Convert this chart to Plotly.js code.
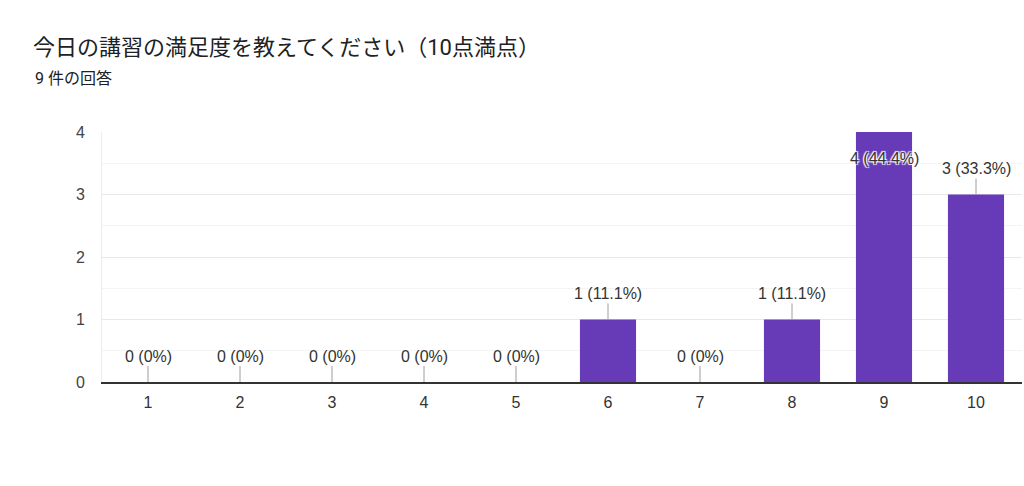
<!DOCTYPE html>
<html>
<head>
<meta charset="utf-8">
<script src="https://cdn.plot.ly/plotly-3.0.1.min.js"></script>
<style>
  html, body { margin: 0; padding: 0; background: #fff; }
  #fig { width: 1024px; height: 486px; }
</style>
</head>
<body>
<div id="fig"></div>
<script>
// 回答データ
var scores = ['1', '2', '3', '4', '5', '6', '7', '8', '9', '10'];
var counts = [0, 0, 0, 0, 0, 1, 0, 1, 4, 3];
var totalAnswers = 9;
var chartTitle = '今日の講習の満足度を教えてください（10点満点）';
var subTitle = totalAnswers + ' 件の回答';

var HEAD_FONT = 'Roboto, "Noto Sans CJK JP", sans-serif';
var FONT = '"Liberation Sans", Arial, sans-serif';
var barColor = '#673ab7';

function pct(c) { // 0 -> "0%", 1 -> "11.1%"
  var p = Math.round(c / totalAnswers * 1000) / 10;
  return (c === 0 ? '0' : p.toFixed(1)) + '%';
}

var annots = [];
for (var i = 0; i < scores.length; i++) {
  var c = counts[i];
  // the tallest bar hits the top, so its label goes down into the bar
  var inside = c === 4;
  annots.push({
    x: i, y: c, xref: 'x', yref: 'y',
    text: c + ' (' + pct(c) + ')',
    showarrow: true, arrowhead: 0, arrowwidth: 1, arrowcolor: '#9e9e9e',
    ax: 0, ay: inside ? 26 : -26,
    font: { family: FONT, size: 16, color: '#333',
            shadow: inside ? '1px 1px 1px #fff, -1px -1px 1px #fff, 1px -1px 1px #fff, -1px 1px 1px #fff' : 'none' }
  });
}

annots.push({
  xref: 'paper', yref: 'paper', x: -0.075, y: 1.216,
  xanchor: 'left', yanchor: 'middle', showarrow: false,
  text: subTitle, font: { family: HEAD_FONT, size: 16, color: '#202124' }
});

var trace = {
  type: 'bar', x: scores, y: counts,
  marker: { color: barColor },
  width: 0.61, hoverinfo: 'none'
};

var layout = {
  width: 1024, height: 486,
  margin: { l: 102, r: 2, t: 132, b: 104 },
  paper_bgcolor: '#fff', plot_bgcolor: '#fff',
  showlegend: false,
  title: {
    text: chartTitle, xref: 'container', yref: 'container',
    x: 33 / 1024, xanchor: 'left', y: 1 - 47 / 486, yanchor: 'middle',
    font: { family: HEAD_FONT, size: 22, color: '#202124' }
  },
  xaxis: {
    type: 'category', range: [-0.5, 9.5],
    showgrid: false, zeroline: false,
    showline: true, linecolor: '#333', linewidth: 1.5,
    ticks: 'outside', ticklen: 5, tickcolor: 'rgba(0,0,0,0)',
    tickfont: { family: FONT, size: 16, color: '#333' },
    fixedrange: true
  },
  yaxis: {
    range: [0, 4], tickvals: [0, 1, 2, 3, 4],
    showgrid: true, gridcolor: '#e8e8e8', gridwidth: 1,
    minor: { dtick: 0.5, showgrid: true, gridcolor: '#f4f4f4' },
    zeroline: false, showline: true, linecolor: '#ececec', linewidth: 1,
    ticks: 'outside', ticklen: 13, tickcolor: 'rgba(0,0,0,0)',
    tickfont: { family: FONT, size: 16, color: '#444' },
    fixedrange: true
  },
  annotations: annots
};

Plotly.newPlot('fig', [trace], layout, { displayModeBar: false, staticPlot: true });
</script>
</body>
</html>
